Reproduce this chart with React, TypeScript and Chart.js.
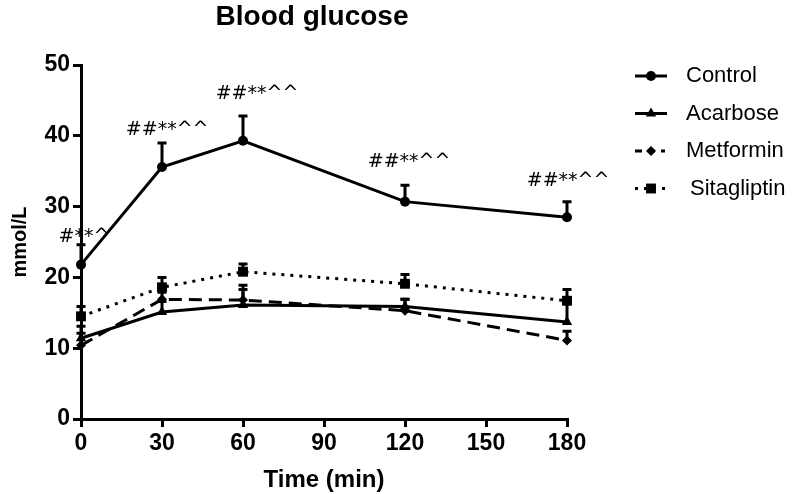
import { useEffect, useRef } from "react";
import { Chart, registerables } from "chart.js";

Chart.register(...registerables);

// ---- data ----
const times = [0, 30, 60, 120, 180];
const seriesNames = ["Control", "Acarbose", "Metformin", "Sitagliptin"];
const controlMean = [21.8, 35.6, 39.3, 30.7, 28.5];
const controlErr = [2.8, 3.4, 3.5, 2.3, 2.2];
const acarboseMean = [11.4, 15.1, 16.1, 15.9, 13.7];
const acarboseErr = [1.7, 1.5, 2.2, 1.0, 2.9];
const metforminMean = [10.4, 16.9, 16.8, 15.3, 11.1];
const metforminErr = [1.7, 1.0, 2.1, 1.6, 1.3];
const sitagliptinMean = [14.5, 18.6, 20.8, 19.1, 16.7];
const sitagliptinErr = [1.4, 1.4, 1.1, 1.3, 1.6];
const annotationText = ["#**^", "##**^^", "##**^^", "##**^^", "##**^^"];
const annotationX = [1.1, 31.9, 65.2, 121.5, 180.4];
const annotationY = [25.7, 40.8, 45.9, 36.3, 33.6];
const chartTitle = "Blood glucose";
const xTitle = "Time (min)";
const yTitle = "mmol/L";

const FONT = '"Liberation Sans", Arial, Helvetica, sans-serif';
const ANN_FONT = '"DejaVu Sans", sans-serif';

function drawMarker(ctx: CanvasRenderingContext2D, style: string, x: number, y: number, r: number) {
  ctx.beginPath();
  if (style === "circle") {
    ctx.arc(x, y, r, 0, Math.PI * 2);
  } else if (style === "triangle") {
    ctx.moveTo(x, y - r);
    ctx.lineTo(x + r * 0.866, y + r * 0.5);
    ctx.lineTo(x - r * 0.866, y + r * 0.5);
    ctx.closePath();
  } else if (style === "rectRot") {
    ctx.moveTo(x, y - r);
    ctx.lineTo(x + r, y);
    ctx.lineTo(x, y + r);
    ctx.lineTo(x - r, y);
    ctx.closePath();
  } else {
    const s = r * Math.SQRT1_2;
    ctx.rect(x - s, y - s, 2 * s, 2 * s);
  }
  ctx.fill();
}

export default function App() {
  const ref = useRef<HTMLCanvasElement>(null);

  useEffect(() => {
    const canvas = ref.current;
    if (!canvas) return;

    const means = [controlMean, acarboseMean, metforminMean, sitagliptinMean];
    const errs = [controlErr, acarboseErr, metforminErr, sitagliptinErr];
    const styles = ["circle", "triangle", "rectRot", "rect"];
    const radii = [5, 6, 5, 7];
    const dashes: number[][] = [[], [], [13, 7], [3, 6]];
    const legendDashes: number[][] = [[], [], [7, 6], [3, 6]];

    const datasets = seriesNames.map((name, i) => ({
      label: name,
      data: times.map((t, j) => ({ x: t, y: means[i][j] })),
      borderColor: "#000",
      backgroundColor: "#000",
      borderWidth: 3,
      borderDash: dashes[i],
      pointStyle: styles[i] as any,
      pointRadius: radii[i],
      pointBorderWidth: 0,
      pointBackgroundColor: "#000",
      tension: 0,
      clip: false as any,
    }));

    const errorBars = {
      id: "errorBars",
      beforeDatasetsDraw(chart: any) {
        const { ctx, scales } = chart;
        ctx.save();
        ctx.strokeStyle = "#000";
        ctx.lineWidth = 3;
        ctx.setLineDash([]);
        errs.forEach((arr, i) => {
          arr.forEach((e, j) => {
            const x = scales.x.getPixelForValue(times[j]);
            const y0 = scales.y.getPixelForValue(means[i][j]);
            const y1 = scales.y.getPixelForValue(means[i][j] + e);
            ctx.beginPath();
            ctx.moveTo(x, y0);
            ctx.lineTo(x, y1);
            ctx.moveTo(x - 4.5, y1);
            ctx.lineTo(x + 4.5, y1);
            ctx.stroke();
          });
        });
        ctx.restore();
      },
    };

    const texts = {
      id: "texts",
      afterDraw(chart: any) {
        const { ctx, chartArea, scales } = chart;
        ctx.save();
        ctx.fillStyle = "#000";
        // title
        ctx.font = `bold 28px ${FONT}`;
        ctx.textAlign = "center";
        ctx.textBaseline = "alphabetic";
        ctx.fillText(chartTitle, 312, 25);
        // x title
        ctx.font = `bold 24px ${FONT}`;
        ctx.fillText(xTitle, (chartArea.left + chartArea.right) / 2, 487);
        // y title
        ctx.save();
        ctx.translate(26, (chartArea.top + chartArea.bottom) / 2);
        ctx.rotate(-Math.PI / 2);
        ctx.font = `bold 20px ${FONT}`;
        ctx.fillText(yTitle, 0, 0);
        ctx.restore();
        // annotations
        ctx.font = `19px ${ANN_FONT}`;
        ctx.textBaseline = "middle";
        annotationText.forEach((t, i) => {
          ctx.fillText(t, scales.x.getPixelForValue(annotationX[i]), scales.y.getPixelForValue(annotationY[i]));
        });
        // legend
        ctx.textAlign = "left";
        ctx.font = `22px ${FONT}`;
        const lx0 = chartArea.right + 68;
        const mx = chartArea.right + 84;
        seriesNames.forEach((name, i) => {
          const y = chartArea.top + 11 + i * 37.5;
          const lx1 = chartArea.right + (i === 2 ? 98 : 100);
          ctx.strokeStyle = "#000";
          ctx.lineWidth = 3;
          ctx.setLineDash(legendDashes[i]);
          ctx.beginPath();
          ctx.moveTo(lx0, y);
          ctx.lineTo(lx1, y);
          ctx.stroke();
          ctx.setLineDash([]);
          drawMarker(ctx, styles[i], mx, y, radii[i]);
          ctx.fillText(name, chartArea.right + (i === 3 ? 123 : 119), y);
        });
        ctx.restore();
      },
    };

    const tickFont = { family: FONT, size: 23, weight: "bold" as const };

    const chart = new Chart(canvas, {
      type: "line",
      data: { datasets: datasets as any },
      options: {
        responsive: false,
        animation: false,
        devicePixelRatio: 1,
        layout: { padding: { left: 0, right: 225, top: 65, bottom: 0 } },
        plugins: {
          legend: { display: false },
          title: { display: false },
          tooltip: { enabled: false },
        },
        scales: {
          x: {
            type: "linear",
            min: 0,
            max: 180,
            ticks: { stepSize: 30, color: "#000", font: tickFont, padding: 3, maxRotation: 0 },
            grid: { drawOnChartArea: false, drawTicks: true, tickLength: 8, lineWidth: 3, color: "#000" },
            border: { display: true, color: "#000", width: 3 },
            afterFit: (s: any) => {
              s.height = 75;
            },
          },
          y: {
            type: "linear",
            min: 0,
            max: 50,
            ticks: { stepSize: 10, color: "#000", font: tickFont, padding: 3 },
            grid: { drawOnChartArea: false, drawTicks: true, tickLength: 8, lineWidth: 3, color: "#000" },
            border: { display: true, color: "#000", width: 3 },
            afterFit: (s: any) => {
              s.width = 81;
            },
          },
        },
      },
      plugins: [errorBars, texts],
    });

    return () => chart.destroy();
  }, []);

  return (
    <div style={{ position: "fixed", left: 0, top: 0, width: 792, height: 494, background: "#fff" }}>
      <canvas ref={ref} width={792} height={494} style={{ display: "block", width: 792, height: 494 }} />
    </div>
  );
}
